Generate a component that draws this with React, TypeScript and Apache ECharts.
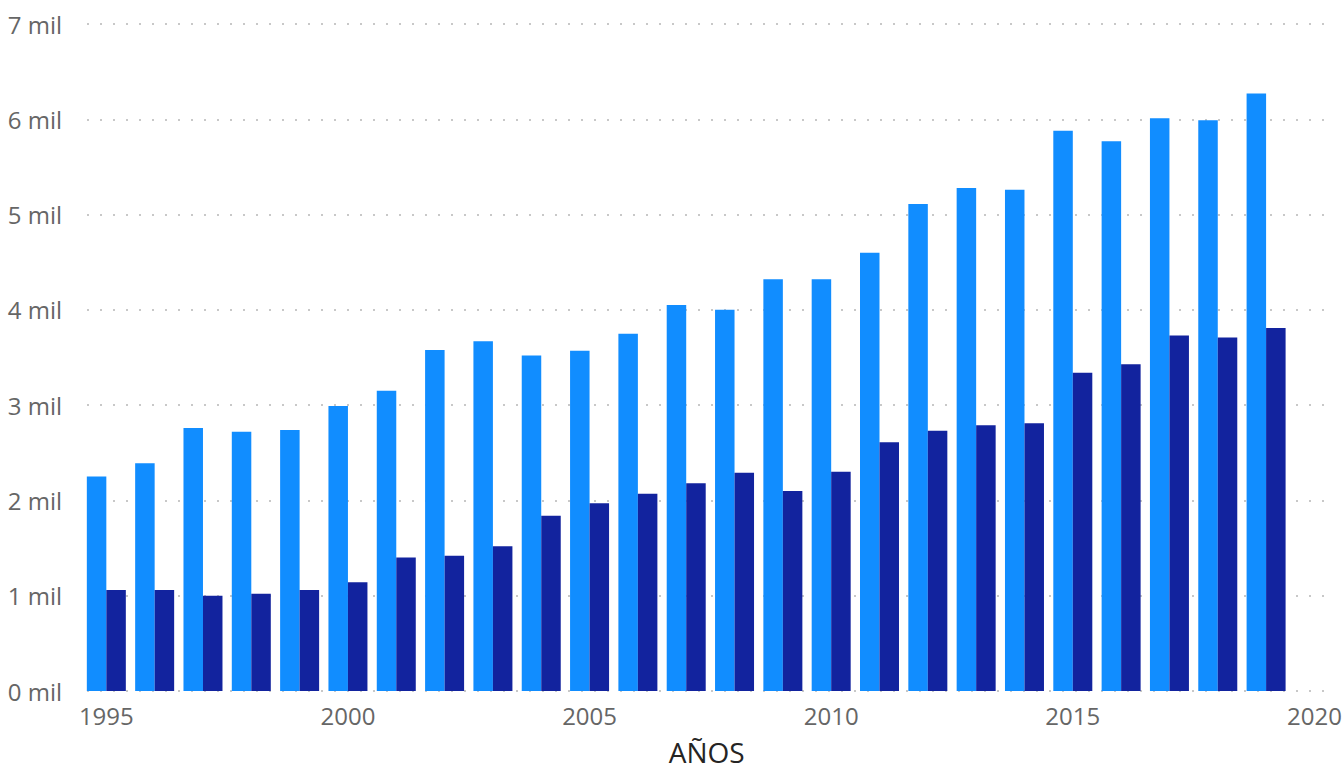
import React, { useEffect, useRef } from "react";
import * as echarts from "echarts";

const years = [1995, 1996, 1997, 1998, 1999, 2000, 2001, 2002, 2003, 2004, 2005, 2006, 2007, 2008, 2009, 2010, 2011, 2012, 2013, 2014, 2015, 2016, 2017, 2018, 2019];
const seriesA = [2.25, 2.39, 2.76, 2.72, 2.74, 2.99, 3.15, 3.58, 3.67, 3.52, 3.57, 3.75, 4.05, 4.0, 4.32, 4.32, 4.6, 5.11, 5.28, 5.26, 5.88, 5.77, 6.01, 5.99, 6.27];
const seriesB = [1.06, 1.06, 1.0, 1.02, 1.06, 1.14, 1.4, 1.42, 1.52, 1.84, 1.97, 2.07, 2.18, 2.29, 2.1, 2.3, 2.61, 2.73, 2.79, 2.81, 3.34, 3.43, 3.73, 3.71, 3.81];
const xTicks = [1995, 2000, 2005, 2010, 2015, 2020];
const xName = "AÑOS";

export default function App() {
  const ref = useRef<HTMLDivElement>(null);
  useEffect(() => {
    if (!ref.current) return;
    const chart = echarts.init(ref.current, undefined, { renderer: "svg" });
    const font = "'Open Sans', 'Noto Sans', sans-serif";
    chart.setOption({
      animation: false,
      grid: { left: 87, right: 17.5, top: 24, bottom: 79, containLabel: false, outerBoundsMode: "none" },
      xAxis: {
        type: "value",
        min: 1994.6,
        max: 2020.25,
        name: xName,
        nameLocation: "middle",
        nameGap: 46,
        nameTextStyle: { fontSize: 28, color: "#252423", fontFamily: font, lineHeight: 30 },
        axisLine: { show: false },
        axisTick: { show: false },
        splitLine: { show: false },
        axisLabel: {
          customValues: xTicks,
          formatter: (v: number) => String(v),
          fontSize: 24,
          color: "#666666",
          fontFamily: font,
          margin: 12,
          hideOverlap: false,
        },
      },
      yAxis: {
        type: "value",
        min: 0,
        max: 7,
        interval: 1,
        axisLine: { show: false },
        axisTick: { show: false },
        axisLabel: {
          formatter: (v: number) => `${v} mil`,
          fontSize: 24,
          color: "#666666",
          fontFamily: font,
          margin: 25,
        },
        splitLine: {
          show: true,
          lineStyle: { color: "#c8c8c8", width: 2, type: [2, 11] },
        },
      },
      series: [
        {
          type: "bar",
          data: years.map((y, i) => [y, seriesA[i]]),
          barWidth: 19.5,
          barGap: "0%",
          itemStyle: { color: "#118DFF" },
        },
        {
          type: "bar",
          data: years.map((y, i) => [y, seriesB[i]]),
          barWidth: 19.5,
          barGap: "0%",
          itemStyle: { color: "#12239E" },
        },
      ],
    });
    return () => chart.dispose();
  }, []);
  return (
    <div
      ref={ref}
      style={{ position: "fixed", left: 0, top: 0, width: 1344, height: 770, background: "#fff" }}
    />
  );
}
